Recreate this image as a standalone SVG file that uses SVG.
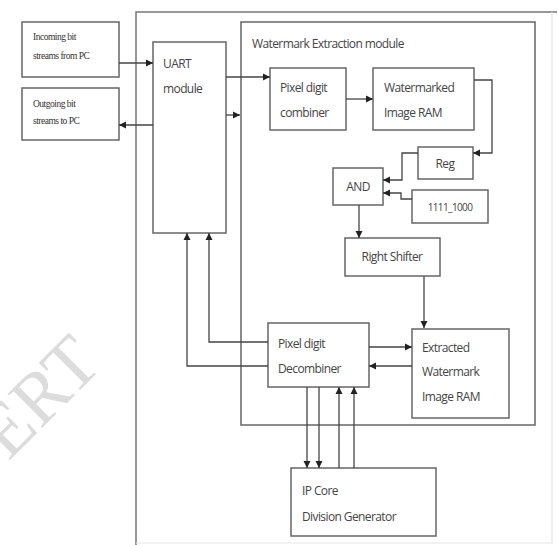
<svg xmlns="http://www.w3.org/2000/svg" width="558" height="545" viewBox="0 0 558 545">
<defs>
<marker id="ah" markerWidth="8" markerHeight="8" refX="7" refY="4" orient="auto" markerUnits="userSpaceOnUse">
<path d="M0,0.5 L7,4 L0,7.5 Z" fill="#222"/>
</marker>
<style>
.box{fill:none;stroke:#666;stroke-width:1.5}
.frame{fill:none;stroke:#777;stroke-width:1.5}
.c{fill:none;stroke:#444;stroke-width:1.3;marker-end:url(#ah)}
.l{fill:none;stroke:#444;stroke-width:1.3}
.t{font-family:"Open Sans","Liberation Sans",sans-serif;font-size:12px;fill:#444;letter-spacing:-0.6px}
.s{font-family:"Liberation Serif",serif;font-size:9.5px;fill:#333;letter-spacing:-0.5px}
.wm{font-family:"Liberation Serif",serif;font-size:74px;fill:#dcdcdc}
</style>
</defs>
<rect width="558" height="545" fill="#fff"/>
<text class="wm" text-anchor="end" transform="translate(104,366) rotate(-45)">ERT</text>

<g id="outer"><path class="frame" d="M136,545 V12 H557"/><path d="M552,12 V543 H136" fill="none" stroke="#e6e6e6" stroke-width="1.2"/></g>

<g id="incoming"><rect class="box" x="22" y="22" width="97" height="55"/>
<text class="s" x="33" y="40">Incoming bit</text><text class="s" x="33" y="59">streams from PC</text></g>
<g id="outgoing"><rect class="box" x="22" y="88" width="97" height="52"/>
<text class="s" x="33" y="107">Outgoing bit</text><text class="s" x="33" y="124">streams to PC</text></g>

<g id="uart"><rect class="box" x="153" y="42" width="73" height="191"/>
<text class="t" x="163" y="68">UART</text><text class="t" x="163" y="93">module</text></g>

<g id="wem"><rect class="box" x="241" y="22" width="294" height="403"/>
<text class="t" x="252" y="48">Watermark Extraction module</text></g>

<g id="combiner"><rect class="box" x="270" y="68" width="76" height="62"/>
<text class="t" x="280" y="92">Pixel digit</text><text class="t" x="280" y="117">combiner</text></g>

<g id="wram"><rect class="box" x="373" y="68" width="101" height="62"/>
<text class="t" x="384" y="92">Watermarked</text><text class="t" x="384" y="117">Image RAM</text></g>

<g id="reg"><rect class="box" x="418" y="147" width="55" height="32"/>
<text class="t" x="445" y="168" text-anchor="middle">Reg</text></g>

<g id="and"><rect class="box" x="333" y="168" width="50" height="37"/>
<text class="t" x="358" y="191" text-anchor="middle">AND</text></g>

<g id="const"><rect class="box" x="412" y="190" width="76" height="33"/>
<text class="t" x="450" y="211" text-anchor="middle" style="font-size:10px">1111_1000</text></g>

<g id="shifter"><rect class="box" x="345" y="238" width="95" height="38"/>
<text class="t" x="392" y="261" text-anchor="middle">Right Shifter</text></g>

<g id="decomb"><rect class="box" x="268" y="323" width="101" height="64"/>
<text class="t" x="278" y="348">Pixel digit</text><text class="t" x="278" y="373">Decombiner</text></g>

<g id="eram"><rect class="box" x="412" y="329" width="97" height="89"/>
<text class="t" x="422" y="352">Extracted</text><text class="t" x="422" y="376">Watermark</text><text class="t" x="422" y="401">Image RAM</text></g>

<g id="ipcore"><rect class="box" x="291" y="468" width="145" height="68"/>
<text class="t" x="302" y="495">IP Core</text><text class="t" x="302" y="521">Division Generator</text></g>

<g id="connectors">
<path class="c" d="M119,63 H153"/>
<path class="c" d="M153,125 H119"/>
<path class="c" d="M226,77 H270"/>
<path class="c" d="M226,115 H240"/>
<path class="c" d="M346,99 H373"/>
<path class="c" d="M474,80 H492 V153 H473"/>
<path class="c" d="M418,153 H402 V180 H383"/>
<path class="c" d="M412,199 H401 V193 H383"/>
<path class="c" d="M359,205 V238"/>
<path class="c" d="M424,276 V328"/>
<path class="c" d="M369,347 H412"/>
<path class="c" d="M412,366 H369"/>
<path class="c" d="M268,342 H209 V233"/>
<path class="c" d="M268,366 H187 V233"/>
<path class="c" d="M307,387 V468"/>
<path class="c" d="M319,387 V468"/>
<path class="c" d="M339,468 V387"/>
<path class="c" d="M354,468 V387"/>
</g>
</svg>
